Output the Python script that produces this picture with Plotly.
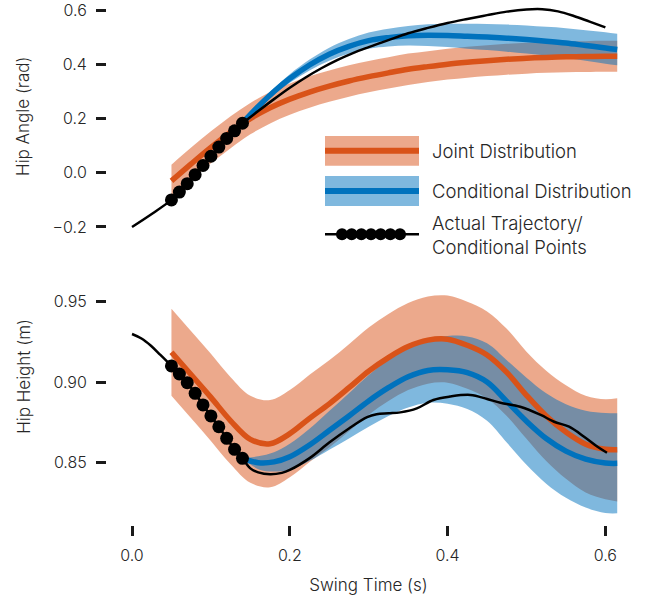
import plotly.graph_objects as go

# ---------------- data ----------------
# Joint distribution grid
x_joint = [0.05, 0.075, 0.10, 0.125, 0.15, 0.175, 0.20, 0.225, 0.25, 0.275, 0.30, 0.325,
           0.35, 0.375, 0.40, 0.425, 0.45, 0.475, 0.50, 0.525, 0.55, 0.575, 0.60, 0.615]
angle_joint_mean = [-0.030, 0.033, 0.094, 0.150, 0.200, 0.240, 0.272, 0.298, 0.320, 0.339, 0.355, 0.369,
                    0.382, 0.392, 0.401, 0.408, 0.414, 0.419, 0.423, 0.426, 0.428, 0.429, 0.430, 0.430]
angle_joint_sd = [0.060, 0.060, 0.059, 0.059, 0.058, 0.058, 0.058, 0.058, 0.058, 0.058, 0.058, 0.058,
                  0.058, 0.057, 0.057, 0.057, 0.057, 0.057, 0.057, 0.057, 0.057, 0.057, 0.057, 0.057]
height_joint_mean = [0.9185, 0.9045, 0.8905, 0.8760, 0.8645, 0.8618, 0.8680, 0.8775, 0.8865, 0.8965, 0.9068, 0.9152,
                     0.9220, 0.9260, 0.9266, 0.9228, 0.9168, 0.9060, 0.8918, 0.8790, 0.8690, 0.8615, 0.8583, 0.8580]
height_joint_sd = [0.027, 0.027, 0.027, 0.027, 0.027, 0.027, 0.027, 0.027, 0.027, 0.027, 0.027, 0.027,
                   0.027, 0.027, 0.027, 0.027, 0.027, 0.027, 0.027, 0.028, 0.029, 0.030, 0.031, 0.032]

# Conditional distribution grid
x_cond = [0.14, 0.16, 0.18, 0.20, 0.225, 0.25, 0.275, 0.30, 0.325, 0.35, 0.375,
          0.40, 0.425, 0.45, 0.475, 0.50, 0.525, 0.55, 0.575, 0.60, 0.615]
angle_cond_mean = [0.184, 0.245, 0.300, 0.348, 0.398, 0.438, 0.467, 0.488, 0.499, 0.506, 0.508,
                   0.507, 0.504, 0.501, 0.497, 0.492, 0.486, 0.479, 0.470, 0.461, 0.455]
angle_cond_sd = [0.000, 0.008, 0.012, 0.016, 0.020, 0.024, 0.027, 0.030, 0.033, 0.036, 0.040,
                 0.043, 0.046, 0.048, 0.050, 0.052, 0.053, 0.055, 0.056, 0.058, 0.058]
height_cond_mean = [0.8527, 0.8500, 0.8505, 0.8537, 0.8610, 0.8700, 0.8790, 0.8883, 0.8965, 0.9033, 0.9072,
                    0.9076, 0.9058, 0.9000, 0.8880, 0.8757, 0.8650, 0.8572, 0.8522, 0.8498, 0.8496]
height_cond_sd = [0.000, 0.004, 0.006, 0.008, 0.010, 0.012, 0.014, 0.016, 0.0175, 0.019, 0.020,
                  0.021, 0.0225, 0.024, 0.0255, 0.027, 0.028, 0.029, 0.030, 0.031, 0.031]

# Actual trajectory
x_traj_angle = [0.0, 0.025, 0.05, 0.06, 0.07, 0.08, 0.09, 0.10, 0.11, 0.12, 0.13, 0.14,
                0.16, 0.18, 0.20, 0.22, 0.24, 0.26, 0.28, 0.30, 0.325, 0.35, 0.375, 0.40,
                0.425, 0.45, 0.475, 0.50, 0.52, 0.54, 0.56, 0.58, 0.60]
angle_traj = [-0.200, -0.152, -0.100, -0.071, -0.040, -0.007, 0.027, 0.061, 0.095, 0.127, 0.155, 0.183,
              0.228, 0.272, 0.314, 0.352, 0.386, 0.416, 0.442, 0.464, 0.490, 0.515, 0.535, 0.553,
              0.568, 0.582, 0.595, 0.603, 0.604, 0.596, 0.579, 0.558, 0.537]
x_traj_height = [0.0, 0.012, 0.024, 0.036, 0.05, 0.06, 0.07, 0.08, 0.09, 0.10, 0.11, 0.12, 0.13, 0.14,
                 0.15, 0.16, 0.175, 0.19, 0.20, 0.2256, 0.25, 0.275, 0.298, 0.31, 0.325, 0.34,
                 0.361, 0.382, 0.403, 0.429, 0.45, 0.467, 0.492, 0.518, 0.535, 0.554, 0.573, 0.59, 0.602]
height_traj = [0.9298, 0.9270, 0.9225, 0.9168, 0.9100, 0.9050, 0.8996, 0.8930, 0.8858, 0.8790, 0.8723, 0.8651, 0.8583, 0.8527,
               0.8465, 0.8440, 0.8428, 0.8437, 0.8455, 0.8530, 0.8625, 0.8712, 0.8782, 0.8800, 0.8806, 0.8812,
               0.8837, 0.8889, 0.8910, 0.8920, 0.8895, 0.8872, 0.8847, 0.8796, 0.8754, 0.8723, 0.8661, 0.8599, 0.8562]

# Conditioning points
x_points = [0.05, 0.06, 0.07, 0.08, 0.09, 0.10, 0.11, 0.12, 0.13, 0.14]
angle_points = [-0.100, -0.071, -0.040, -0.007, 0.027, 0.061, 0.095, 0.127, 0.155, 0.183]
height_points = [0.9100, 0.9050, 0.8996, 0.8930, 0.8858, 0.8790, 0.8723, 0.8651, 0.8583, 0.8527]

legend_labels = ["Joint Distribution", "Conditional Distribution",
                 "Actual Trajectory/", "Conditional Points"]

# ---------------- styles ----------------
ORANGE = "#D95319"
BLUE = "#0072BD"
ORANGE_FILL = "rgba(217,83,25,0.5)"
BLUE_FILL = "rgba(0,114,189,0.5)"
TXT = "#262626"
FONT = "Inter"
WEIGHT = 300

fig = go.Figure()


def band(x, mean, sd, color, xa, ya):
    lo = [m - s for m, s in zip(mean, sd)]
    hi = [m + s for m, s in zip(mean, sd)]
    fig.add_trace(go.Scatter(x=x, y=lo, mode="lines", line=dict(width=0, shape="spline"),
                             xaxis=xa, yaxis=ya, showlegend=False, hoverinfo="skip"))
    fig.add_trace(go.Scatter(x=x, y=hi, mode="lines", line=dict(width=0, shape="spline"),
                             fill="tonexty", fillcolor=color,
                             xaxis=xa, yaxis=ya, showlegend=False, hoverinfo="skip"))


def line(x, y, color, width, xa, ya):
    fig.add_trace(go.Scatter(x=x, y=y, mode="lines", line=dict(color=color, width=width, shape="spline"),
                             xaxis=xa, yaxis=ya, showlegend=False))


for xa, ya, jm, js, cm, cs, tx, ty, py in [
    ("x", "y", angle_joint_mean, angle_joint_sd, angle_cond_mean, angle_cond_sd, x_traj_angle, angle_traj, angle_points),
    ("x2", "y2", height_joint_mean, height_joint_sd, height_cond_mean, height_cond_sd, x_traj_height, height_traj, height_points),
]:
    band(x_joint, jm, js, ORANGE_FILL, xa, ya)
    band(x_cond, cm, cs, BLUE_FILL, xa, ya)
    line(x_joint, jm, ORANGE, 5.5, xa, ya)
    line(x_cond, cm, BLUE, 5.5, xa, ya)
    line(tx, ty, "black", 2.5, xa, ya)
    fig.add_trace(go.Scatter(x=x_points, y=py, mode="markers",
                             marker=dict(color="black", size=13, line=dict(width=0)),
                             xaxis=xa, yaxis=ya, showlegend=False))

# ---------------- layout ----------------
W, H = 664, 603
L, R, T, B = 107, 34, 2, 78
pw, ph = W - L - R, H - T - B


def px_x(p):
    return (p - L) / pw


def px_y(p):
    return (H - B - p) / ph


XR = [-0.0317, 0.6312]
tickfont = dict(family=FONT, size=16, color=TXT, weight=WEIGHT)
titlefont = dict(family=FONT, size=17, color=TXT, weight=WEIGHT)
common_y = dict(showline=False, showgrid=False, zeroline=False, ticks="outside", ticklen=10,
                tickwidth=2.5, tickcolor="#1a1a1a", tickfont=tickfont, ticklabelstandoff=6,
                ticklabeloverflow="allow", automargin=False)

fig.update_layout(
    width=W, height=H, margin=dict(l=L, r=R, t=T, b=B, autoexpand=False),
    paper_bgcolor="white", plot_bgcolor="white", showlegend=False,
    xaxis=dict(domain=[0, 1], range=XR, anchor="y", showline=False, showgrid=False, zeroline=False,
               showticklabels=False, ticks="", automargin=False),
    yaxis=dict(domain=[px_y(230.5), 1.0], range=[-0.2130, 0.6305], anchor="x",
               tickvals=[-0.2, 0.0, 0.2, 0.4, 0.6], tickformat=".1f",
               title=dict(text="Hip Angle (rad)", font=titlefont, standoff=18), **common_y),
    xaxis2=dict(domain=[0, 1], range=XR, anchor="y2", showline=False, showgrid=False, zeroline=False,
                ticks="outside", ticklen=10, tickwidth=2.5, tickcolor="#1a1a1a", tickfont=tickfont,
                tickvals=[0.0, 0.2, 0.4, 0.6], tickformat=".1f", ticklabelstandoff=6,
                ticklabeloverflow="allow", automargin=False,
                title=dict(text="Swing Time (s)", font=titlefont, standoff=14)),
    yaxis2=dict(domain=[0, px_y(228)], range=[0.81138, 0.99551], anchor="x2",
                tickvals=[0.85, 0.90, 0.95], tickformat=".2f",
                title=dict(text="Hip Height (m)", font=titlefont, standoff=18), **common_y),
)

# ---------------- legend (drawn by hand) ----------------
shapes = []
hx0, hx1 = px_x(325), px_x(419)
for (top, bot, mid, fillc, linec) in [(136, 165.7, 150.8, "#ECA98C", ORANGE),
                                      (176, 206, 191, "#7FB8DE", BLUE)]:
    shapes.append(dict(type="rect", xref="paper", yref="paper", x0=hx0, x1=hx1,
                       y0=px_y(bot), y1=px_y(top), fillcolor=fillc, line=dict(width=0), layer="above"))
    shapes.append(dict(type="line", xref="paper", yref="paper", x0=hx0, x1=hx1,
                       y0=px_y(mid), y1=px_y(mid), line=dict(color=linec, width=6), layer="above"))
ly = 234.3
shapes.append(dict(type="line", xref="paper", yref="paper", x0=hx0, x1=hx1,
                   y0=px_y(ly), y1=px_y(ly), line=dict(color="black", width=2.5), layer="above"))
r = 6
for i in range(7):
    cx = 342 + i * 9.67
    shapes.append(dict(type="circle", xref="paper", yref="paper",
                       x0=px_x(cx - r), x1=px_x(cx + r), y0=px_y(ly + r), y1=px_y(ly - r),
                       fillcolor="black", line=dict(width=0), layer="above"))
fig.update_layout(shapes=shapes)

annots = []
for text, yc in zip(legend_labels, [150.5, 190.5, 223.3, 246.7]):
    annots.append(dict(text=text, xref="paper", yref="paper", x=px_x(430), y=px_y(yc),
                       xanchor="left", yanchor="middle", showarrow=False,
                       font=dict(family=FONT, size=18.5, color=TXT, weight=WEIGHT)))
fig.update_layout(annotations=annots)

fig.write_html("out.html")
